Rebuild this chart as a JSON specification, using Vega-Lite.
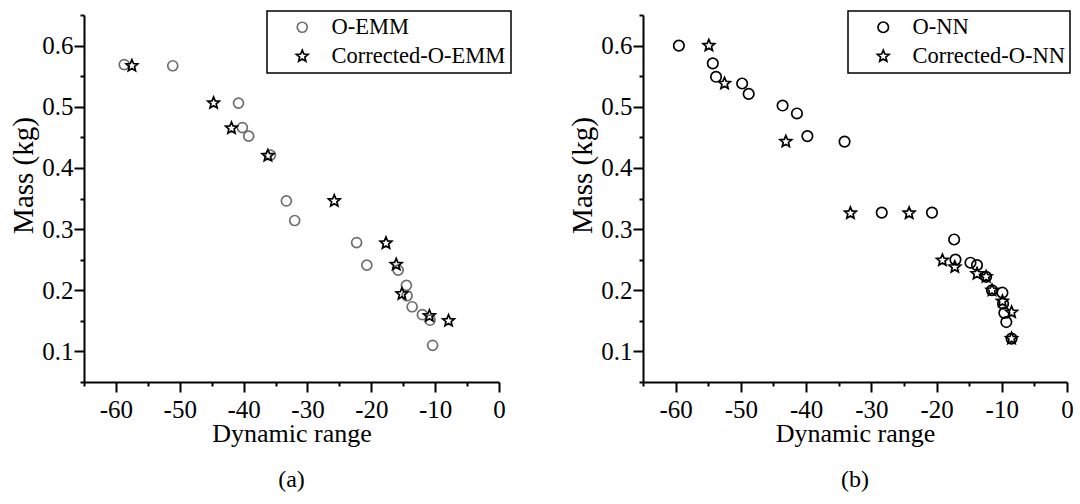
{
  "$schema": "https://vega.github.io/schema/vega-lite/v6.json",
  "background": "white",
  "padding": {"left": 9, "top": 3, "right": 5, "bottom": 5},
  "spacing": 56,
  "datasets": {
    "a": [
      {"series": "O-EMM", "range": -58.7, "mass": 0.569},
      {"series": "O-EMM", "range": -51.1, "mass": 0.567},
      {"series": "O-EMM", "range": -40.8, "mass": 0.506},
      {"series": "O-EMM", "range": -40.2, "mass": 0.466},
      {"series": "O-EMM", "range": -39.2, "mass": 0.452},
      {"series": "O-EMM", "range": -35.8, "mass": 0.421},
      {"series": "O-EMM", "range": -33.3, "mass": 0.346},
      {"series": "O-EMM", "range": -32.0, "mass": 0.314},
      {"series": "O-EMM", "range": -22.3, "mass": 0.278},
      {"series": "O-EMM", "range": -20.7, "mass": 0.241},
      {"series": "O-EMM", "range": -15.8, "mass": 0.233},
      {"series": "O-EMM", "range": -14.5, "mass": 0.208},
      {"series": "O-EMM", "range": -14.4, "mass": 0.191},
      {"series": "O-EMM", "range": -13.6, "mass": 0.173},
      {"series": "O-EMM", "range": -12.0, "mass": 0.160},
      {"series": "O-EMM", "range": -10.8, "mass": 0.151},
      {"series": "O-EMM", "range": -10.4, "mass": 0.110},
      {"series": "Corrected-O-EMM", "range": -57.5, "mass": 0.567},
      {"series": "Corrected-O-EMM", "range": -44.7, "mass": 0.506},
      {"series": "Corrected-O-EMM", "range": -41.9, "mass": 0.465},
      {"series": "Corrected-O-EMM", "range": -36.2, "mass": 0.420},
      {"series": "Corrected-O-EMM", "range": -25.8, "mass": 0.346},
      {"series": "Corrected-O-EMM", "range": -17.7, "mass": 0.277},
      {"series": "Corrected-O-EMM", "range": -16.1, "mass": 0.242},
      {"series": "Corrected-O-EMM", "range": -15.2, "mass": 0.194},
      {"series": "Corrected-O-EMM", "range": -10.9, "mass": 0.158},
      {"series": "Corrected-O-EMM", "range": -7.9, "mass": 0.150}
    ],
    "b": [
      {"series": "O-NN", "range": -59.5, "mass": 0.600},
      {"series": "O-NN", "range": -54.3, "mass": 0.571},
      {"series": "O-NN", "range": -53.8, "mass": 0.549},
      {"series": "O-NN", "range": -49.8, "mass": 0.538},
      {"series": "O-NN", "range": -48.8, "mass": 0.521},
      {"series": "O-NN", "range": -43.6, "mass": 0.502},
      {"series": "O-NN", "range": -41.4, "mass": 0.489},
      {"series": "O-NN", "range": -39.8, "mass": 0.452},
      {"series": "O-NN", "range": -34.1, "mass": 0.443},
      {"series": "O-NN", "range": -28.4, "mass": 0.327},
      {"series": "O-NN", "range": -20.7, "mass": 0.327},
      {"series": "O-NN", "range": -17.3, "mass": 0.283},
      {"series": "O-NN", "range": -17.1, "mass": 0.250},
      {"series": "O-NN", "range": -14.8, "mass": 0.245},
      {"series": "O-NN", "range": -13.8, "mass": 0.241},
      {"series": "O-NN", "range": -12.4, "mass": 0.222},
      {"series": "O-NN", "range": -11.5, "mass": 0.200},
      {"series": "O-NN", "range": -9.9, "mass": 0.196},
      {"series": "O-NN", "range": -9.8, "mass": 0.178},
      {"series": "O-NN", "range": -9.6, "mass": 0.163},
      {"series": "O-NN", "range": -9.3, "mass": 0.148},
      {"series": "O-NN", "range": -8.5, "mass": 0.121},
      {"series": "Corrected-O-NN", "range": -54.9, "mass": 0.600},
      {"series": "Corrected-O-NN", "range": -52.5, "mass": 0.538},
      {"series": "Corrected-O-NN", "range": -43.1, "mass": 0.443},
      {"series": "Corrected-O-NN", "range": -33.2, "mass": 0.326},
      {"series": "Corrected-O-NN", "range": -24.2, "mass": 0.326},
      {"series": "Corrected-O-NN", "range": -19.1, "mass": 0.249},
      {"series": "Corrected-O-NN", "range": -17.2, "mass": 0.238},
      {"series": "Corrected-O-NN", "range": -13.8, "mass": 0.227},
      {"series": "Corrected-O-NN", "range": -12.4, "mass": 0.222},
      {"series": "Corrected-O-NN", "range": -11.5, "mass": 0.200},
      {"series": "Corrected-O-NN", "range": -9.9, "mass": 0.182},
      {"series": "Corrected-O-NN", "range": -8.5, "mass": 0.164},
      {"series": "Corrected-O-NN", "range": -8.5, "mass": 0.121}
    ]
  },
  "hconcat": [
    {
      "width": 415,
      "height": 367,
      "data": {"name": "a"},
      "title": {"text": "(a)", "orient": "bottom", "anchor": "middle", "offset": 22},
      "mark": {"type": "point", "filled": false, "strokeWidth": 1.7, "opacity": 1},
      "encoding": {
        "x": {"field": "range", "type": "quantitative", "title": "Dynamic range",
          "scale": {"domain": [-65, 0], "nice": false, "zero": false},
          "axis": {"values": [-65, -60, -55, -50, -45, -40, -35, -30, -25, -20, -15, -10, -5, 0],
            "labelExpr": "datum.value % 10 == 0 ? (datum.value < 0 ? '-' + abs(datum.value) : '0') : ''",
            "tickSize": {"condition": {"test": "datum.value % 10 == 0", "value": 10}, "value": 4},
            "labelPadding": 5, "titleY": 59, "titleBaseline": "alphabetic"}},
        "y": {"field": "mass", "type": "quantitative", "title": "Mass (kg)",
          "scale": {"domain": [0.05, 0.65], "nice": false, "zero": false},
          "axis": {"values": [0.05, 0.1, 0.15, 0.2, 0.25, 0.3, 0.35, 0.4, 0.45, 0.5, 0.55, 0.6, 0.65],
            "labelExpr": "abs(datum.value*10 - round(datum.value*10)) < 0.001 ? format(datum.value, '.1f') : ''",
            "tickSize": {"condition": {"test": "abs(datum.value*10 - round(datum.value*10)) < 0.001", "value": 10}, "value": 4},
            "labelPadding": 1, "titleX": -61, "titleY": 160, "titleBaseline": "middle"}},
        "shape": {"field": "series", "type": "nominal",
          "scale": {"domain": ["O-EMM", "Corrected-O-EMM"], "range": ["circle", "M0,-1L0.2645,-0.364L0.951,-0.309L0.428,0.139L0.588,0.809L0,0.45L-0.588,0.809L-0.428,0.139L-0.951,-0.309L-0.2645,-0.364Z"]},
          "legend": {"title": null, "orient": "none", "legendX": 183, "legendY": -4}},
        "stroke": {"field": "series", "type": "nominal",
          "scale": {"domain": ["O-EMM", "Corrected-O-EMM"], "range": ["#6e6e6e", "#000000"]},
          "legend": {"title": null, "orient": "none", "legendX": 183, "legendY": -4}},
        "size": {"field": "series", "type": "nominal",
          "scale": {"domain": ["O-EMM", "Corrected-O-EMM"], "range": [100, 150]},
          "legend": {"title": null, "orient": "none", "legendX": 183, "legendY": -4}}
      }
    },
    {
      "width": 424,
      "height": 367,
      "data": {"name": "b"},
      "title": {"text": "(b)", "orient": "bottom", "anchor": "middle", "offset": 22},
      "mark": {"type": "point", "filled": false, "strokeWidth": 1.7, "opacity": 1},
      "encoding": {
        "x": {"field": "range", "type": "quantitative", "title": "Dynamic range",
          "scale": {"domain": [-65, 0], "nice": false, "zero": false},
          "axis": {"values": [-65, -60, -55, -50, -45, -40, -35, -30, -25, -20, -15, -10, -5, 0],
            "labelExpr": "datum.value % 10 == 0 ? (datum.value < 0 ? '-' + abs(datum.value) : '0') : ''",
            "tickSize": {"condition": {"test": "datum.value % 10 == 0", "value": 10}, "value": 4},
            "labelPadding": 5, "titleY": 59, "titleBaseline": "alphabetic"}},
        "y": {"field": "mass", "type": "quantitative", "title": "Mass (kg)",
          "scale": {"domain": [0.05, 0.65], "nice": false, "zero": false},
          "axis": {"values": [0.05, 0.1, 0.15, 0.2, 0.25, 0.3, 0.35, 0.4, 0.45, 0.5, 0.55, 0.6, 0.65],
            "labelExpr": "abs(datum.value*10 - round(datum.value*10)) < 0.001 ? format(datum.value, '.1f') : ''",
            "tickSize": {"condition": {"test": "abs(datum.value*10 - round(datum.value*10)) < 0.001", "value": 10}, "value": 4},
            "labelPadding": 1, "titleX": -61, "titleY": 160, "titleBaseline": "middle"}},
        "shape": {"field": "series", "type": "nominal",
          "scale": {"domain": ["O-NN", "Corrected-O-NN"], "range": ["circle", "M0,-1L0.2645,-0.364L0.951,-0.309L0.428,0.139L0.588,0.809L0,0.45L-0.588,0.809L-0.428,0.139L-0.951,-0.309L-0.2645,-0.364Z"]},
          "legend": {"title": null, "orient": "none", "legendX": 205, "legendY": -4}},
        "stroke": {"field": "series", "type": "nominal",
          "scale": {"domain": ["O-NN", "Corrected-O-NN"], "range": ["#000000", "#000000"]},
          "legend": {"title": null, "orient": "none", "legendX": 205, "legendY": -4}},
        "size": {"field": "series", "type": "nominal",
          "scale": {"domain": ["O-NN", "Corrected-O-NN"], "range": [110, 150]},
          "legend": {"title": null, "orient": "none", "legendX": 205, "legendY": -4}}
      }
    }
  ],
  "resolve": {"scale": {"x": "independent", "y": "independent", "shape": "independent", "stroke": "independent", "size": "independent"}},
  "config": {
    "font": "Liberation Serif",
    "view": {"stroke": null},
    "axis": {
      "grid": false,
      "domainColor": "#000000", "domainWidth": 2,
      "tickColor": "#000000", "tickWidth": 2,
      "labelFont": "Liberation Serif", "labelFontSize": 25, "labelColor": "#000000",
      "titleFont": "Liberation Serif", "titleFontWeight": "normal", "titleColor": "#000000",
      "labelOverlap": false, "labelFlush": false
    },
    "axisX": {"titleFontSize": 26},
    "axisY": {"titleFontSize": 29},
    "legend": {
      "labelFont": "Liberation Serif", "labelFontSize": 22.5, "labelColor": "#000000", "labelLimit": 400,
      "strokeColor": "#000000", "strokeWidth": 1.5, "padding": 5, "rowPadding": 6,
      "symbolOffset": 19, "labelOffset": 18, "symbolStrokeWidth": 1.7, "symbolFillColor": "transparent"
    },
    "title": {"font": "Liberation Serif", "fontSize": 24, "fontWeight": "normal", "color": "#000000"}
  }
}
